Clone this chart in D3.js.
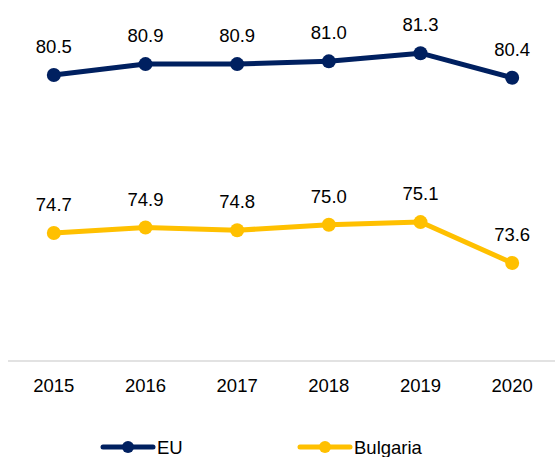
<!DOCTYPE html>
<html>
<head>
<meta charset="utf-8">
<script src="https://cdn.jsdelivr.net/npm/d3@7"></script>
<style>
  body { margin: 0; background: #fff; }
  text { font-family: "Liberation Sans", Arial, sans-serif; fill: #000; }
</style>
</head>
<body>
<svg id="chart" width="555" height="457"></svg>
<script>
let years = ["2015", "2016", "2017", "2018", "2019", "2020"]
let euValues = [80.5, 80.9, 80.9, 81.0, 81.3, 80.4]
let bgValues = [74.7, 74.9, 74.8, 75.0, 75.1, 73.6]
let seriesNames = ["EU", "Bulgaria"]
let seriesColors = ["#002060", "#FFC000"]

let svg = d3.select("#chart")

let xScale = d3.scaleBand().domain(years).range([8, 558]).padding(0)
let yScale = d3.scaleLinear().domain([70, 83]).range([361, 361 - 13 * 27.24])

let cx = d => xScale(d) + xScale.bandwidth() / 2

// axis line
svg.append("line")
    .attr("x1", 8).attr("x2", 555)
    .attr("y1", yScale(70)).attr("y2", yScale(70))
    .attr("stroke", "#d9d9d9")
    .attr("stroke-width", 1.5)

// year labels
svg.selectAll(".year")
    .data(years)
    .enter()
    .append("text")
    .attr("class", "year")
    .attr("x", d => cx(d))
    .attr("y", 392)
    .attr("text-anchor", "middle")
    .style("font-size", "18.5px")
    .text(d => d)

let series = [euValues, bgValues]

series.forEach((vals, i) => {
    let pts = years.map((y, j) => ({ year: y, value: vals[j] }))
    let line = d3.line().x(d => cx(d.year)).y(d => yScale(d.value))

    svg.append("path")
        .datum(pts)
        .attr("d", line)
        .attr("fill", "none")
        .attr("stroke", seriesColors[i])
        .attr("stroke-width", 5)
        .attr("stroke-linejoin", "round")

    svg.selectAll(".dot" + i)
        .data(pts)
        .enter()
        .append("circle")
        .attr("cx", d => cx(d.year))
        .attr("cy", d => yScale(d.value))
        .attr("r", 7)
        .attr("fill", seriesColors[i])

    svg.selectAll(".lbl" + i)
        .data(pts)
        .enter()
        .append("text")
        .attr("x", d => cx(d.year))
        .attr("y", d => yScale(d.value) - 22)
        .attr("text-anchor", "middle")
        .style("font-size", "18.5px")
        .text(d => d.value.toFixed(1))
})

// legend
let legendX = [103, 300]
seriesNames.forEach((name, i) => {
    let g = svg.append("g").attr("transform", `translate(${legendX[i]}, 447)`)
    g.append("line")
        .attr("x1", 0).attr("x2", 50)
        .attr("y1", 0).attr("y2", 0)
        .attr("stroke", seriesColors[i])
        .attr("stroke-width", 5)
        .attr("stroke-linecap", "round")
    g.append("circle")
        .attr("cx", 25).attr("cy", 0)
        .attr("r", 6)
        .attr("fill", seriesColors[i])
    g.append("text")
        .attr("x", 54).attr("y", 7)
        .style("font-size", "18.5px")
        .text(name)
})
</script>
</body>
</html>
